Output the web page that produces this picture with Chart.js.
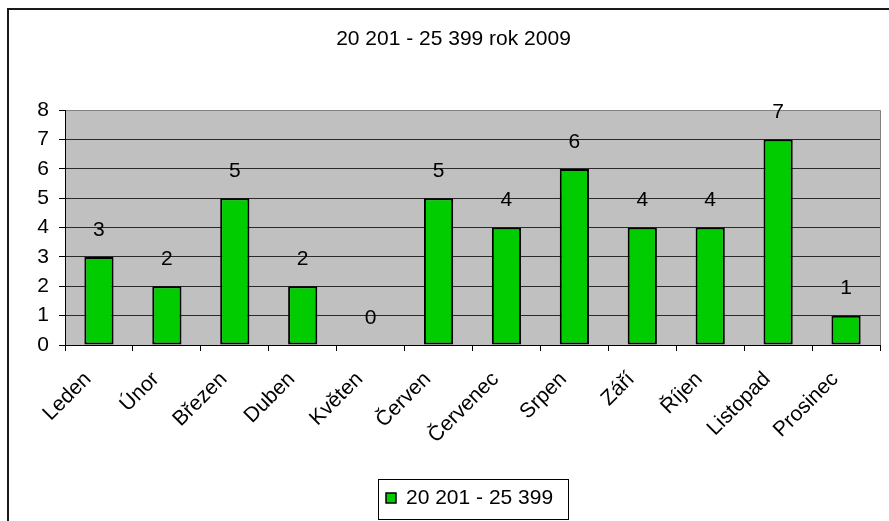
<!DOCTYPE html>
<html>
<head>
<meta charset="utf-8">
<script src="https://cdn.jsdelivr.net/npm/chart.js@4/dist/chart.umd.min.js"></script>
<style>
  html, body { margin: 0; padding: 0; background: #fff; }
  #wrap { width: 889px; height: 521px; position: relative; }
</style>
</head>
<body>
<div id="wrap"><canvas id="c" width="889" height="521"></canvas></div>
<script>
const titleText = "20 201 - 25 399 rok 2009";
const seriesName = "20 201 - 25 399";
const categories = ["Leden", "Únor", "Březen", "Duben", "Květen", "Červen", "Červenec", "Srpen", "Září", "Říjen", "Listopad", "Prosinec"];
const values = [3, 2, 5, 2, 0, 5, 4, 6, 4, 4, 7, 1];
const yTicks = [0, 1, 2, 3, 4, 5, 6, 7, 8];

const FONT = "'Liberation Sans', Arial, sans-serif";

const framePlugin = {
  id: 'frame',
  beforeDraw(chart) {
    const ctx = chart.ctx;
    const a = chart.chartArea;
    ctx.save();
    ctx.fillStyle = '#ffffff';
    ctx.fillRect(0, 0, chart.width, chart.height);
    ctx.strokeStyle = '#1a1a1a';
    ctx.lineWidth = 2;
    ctx.beginPath();
    ctx.moveTo(8, 522);
    ctx.lineTo(8, 9);
    ctx.lineTo(chart.width + 2, 9);
    ctx.stroke();
    ctx.fillStyle = '#c0c0c0';
    ctx.fillRect(a.left, a.top, a.right - a.left, a.bottom - a.top);
    ctx.restore();
  },
  afterDraw(chart) {
    const ctx = chart.ctx;
    const a = chart.chartArea;
    ctx.save();
    ctx.strokeStyle = '#808080';
    ctx.lineWidth = 1;
    ctx.beginPath();
    ctx.moveTo(Math.round(a.right) + 0.5, a.top);
    ctx.lineTo(Math.round(a.right) + 0.5, a.bottom);
    ctx.stroke();
    // legend box
    const lx = 378, ly = 479, lw = 190, lh = 40;
    ctx.strokeStyle = '#000';
    ctx.lineWidth = 1;
    ctx.strokeRect(lx + 0.5, ly + 0.5, lw, lh);
    const ds = chart.data.datasets[0];
    ctx.fillStyle = ds.backgroundColor;
    ctx.fillRect(386, 493, 10, 10);
    ctx.strokeStyle = '#000';
    ctx.lineWidth = 1.5;
    ctx.strokeRect(386, 493, 10, 10);
    ctx.fillStyle = '#000';
    ctx.font = '21px ' + FONT;
    ctx.textAlign = 'left';
    ctx.textBaseline = 'middle';
    ctx.fillText(ds.label, 406, 498);
    ctx.restore();
  }
};

const labelPlugin = {
  id: 'valueLabels',
  afterDatasetsDraw(chart) {
    const ctx = chart.ctx;
    const meta = chart.getDatasetMeta(0);
    const ds = chart.data.datasets[0];
    ctx.save();
    ctx.fillStyle = '#000';
    ctx.font = '21px ' + FONT;
    ctx.textAlign = 'center';
    ctx.textBaseline = 'middle';
    meta.data.forEach((bar, i) => {
      ctx.fillText(String(ds.data[i]), bar.x, bar.y - 27);
    });
    ctx.restore();
  }
};

new Chart(document.getElementById('c'), {
  type: 'bar',
  data: {
    labels: categories,
    datasets: [{
      label: seriesName,
      data: values,
      backgroundColor: '#00cc00',
      borderColor: '#000000',
      borderWidth: 2,
      borderSkipped: false,
      barPercentage: 0.43,
      categoryPercentage: 1.0
    }]
  },
  options: {
    responsive: false,
    animation: false,
    devicePixelRatio: 1,
    layout: { padding: { left: 27, right: 9, top: 0, bottom: 0 } },
    plugins: {
      legend: { display: false },
      tooltip: { enabled: false },
      title: {
        display: true,
        text: titleText,
        color: '#000',
        font: { family: FONT, size: 21, weight: 'normal' },
        padding: { top: 27, bottom: 58 }
      }
    },
    scales: {
      x: {
        offset: true,
        grid: {
          offset: true,
          drawOnChartArea: false,
          drawTicks: true,
          tickLength: 6,
          tickColor: '#000'
        },
        border: { display: true, color: '#000', width: 1 },
        ticks: {
          color: '#000',
          font: { family: FONT, size: 21 },
          minRotation: 45,
          maxRotation: 45,
          autoSkip: false,
          padding: 16,
          labelOffset: -11
        },
        afterFit(scale) { scale.height = 176; }
      },
      y: {
        min: 0,
        max: 8,
        afterBuildTicks(scale) { scale.ticks = yTicks.map(v => ({ value: v })); },
        grid: {
          color: (ctx) => (ctx.tick && ctx.tick.value === 8) ? '#808080' : '#2a2a2a',
          lineWidth: 1,
          drawTicks: true,
          tickLength: 6,
          tickColor: '#000'
        },
        border: { display: true, color: '#000', width: 1 },
        ticks: {
          color: '#000',
          font: { family: FONT, size: 21 },
          padding: 10
        },
        afterFit(scale) { scale.width = 38; }
      }
    }
  },
  plugins: [framePlugin, labelPlugin]
});
</script>
</body>
</html>
